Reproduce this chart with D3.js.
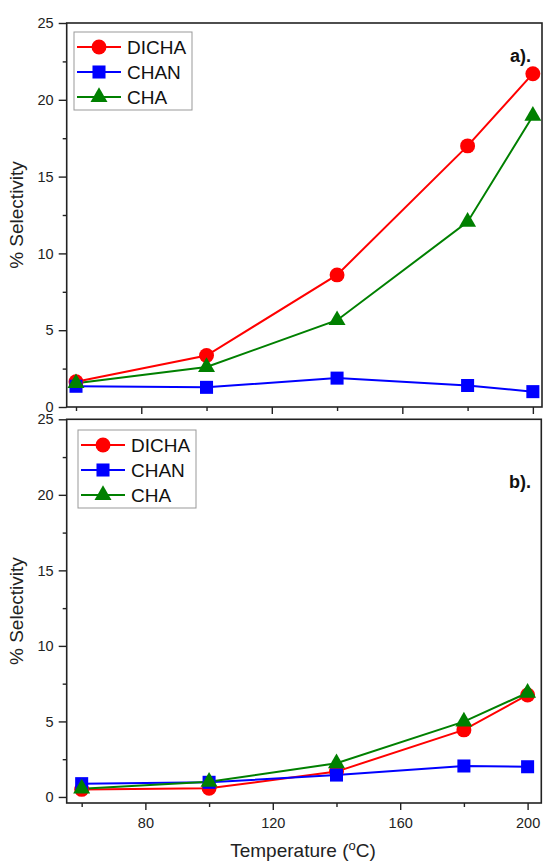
<html>
<head>
<meta charset="utf-8">
<title>Selectivity vs temperature</title>
<style type="text/css">
body { margin: 0; background: #fff; }
svg { font-family: "Liberation Sans", Arial, Helvetica, sans-serif; }
.frame { fill: none; stroke: #222; stroke-width: 1.6px; }
.axis path.domain { display: none; }
.axis line { stroke: #222; stroke-width: 1.4px; }
.axis text { font-size: 14.5px; fill: #222; }
.legbox { fill: #fff; stroke: #999; stroke-width: 1px; }
.legtext { font-size: 19px; fill: #111; }
.title { font-size: 19px; fill: #222; }
.tag { font-size: 18px; font-weight: bold; fill: #111; }
</style>
</head>
<body>
<script src="https://d3js.org/d3.v7.min.js"></script>
<script>
// temperatures (oC)
var temps = [60, 100, 140, 180, 200];

// panel a)
var aDicha = [1.65, 3.35, 8.6, 17.0, 21.7],
    aChan  = [1.35, 1.28, 1.88, 1.4, 1.0],
    aCha   = [1.55, 2.6, 5.65, 12.05, 18.95];

// panel b)
var bDicha = [0.5, 0.57, 1.68, 4.44, 6.75],
    bChan  = [0.88, 0.97, 1.45, 2.05, 2.0],
    bCha   = [0.55, 1.0, 2.23, 4.99, 6.9];

var seriesNames = ["DICHA", "CHAN", "CHA"],
    colors = ["#ff0000", "#0000ff", "#008000"],
    shapes = [d3.symbolCircle, d3.symbolSquare, d3.symbolTriangle],
    sizes = [175, 170, 125];

var yMajor = [0, 5, 10, 15, 20, 25],
    yMinor = [2.5, 7.5, 12.5, 17.5, 22.5],
    xMajor = [80, 120, 160, 200],
    xMinor = [60, 100, 140, 180];

var W = 544, H = 862;

var svg = d3.select("body").append("svg")
    .attr("width", W)
    .attr("height", H);

// one panel: box = [left, top, right, bottom] in pixels
function panel(box, xdom, ydom, values, tag, legOff, showX) {
	var xs = d3.scaleLinear().domain(xdom).range([box[0], box[2]]),
	    ys = d3.scaleLinear().domain(ydom).range([box[3], box[1]]);

	var g = svg.append("g");

	// y axis ticks
	g.append("g").attr("class", "axis")
		.attr("transform", "translate(" + box[0] + ",0)")
		.call(d3.axisLeft(ys).tickValues(yMajor).tickSize(8).tickPadding(5));
	g.append("g").attr("class", "axis")
		.attr("transform", "translate(" + box[0] + ",0)")
		.call(d3.axisLeft(ys).tickValues(yMinor).tickSize(4).tickFormat(""));

	// x axis ticks
	var xa = g.append("g").attr("class", "axis")
		.attr("transform", "translate(0," + box[3] + ")")
		.call(d3.axisBottom(xs).tickValues(xMajor).tickSize(7).tickPadding(8));
	if (!showX) xa.selectAll("text").remove();
	g.append("g").attr("class", "axis")
		.attr("transform", "translate(0," + box[3] + ")")
		.call(d3.axisBottom(xs).tickValues(xMinor).tickSize(4).tickFormat(""));

	// lines and markers
	var line = d3.line()
		.x(function(d, i) { return xs(temps[i]); })
		.y(function(d) { return ys(d); });

	values.forEach(function(vals, k) {
		g.append("path")
			.attr("d", line(vals))
			.attr("fill", "none")
			.attr("stroke", colors[k])
			.attr("stroke-width", 2);
	});
	values.forEach(function(vals, k) {
		g.selectAll(null).data(vals).enter().append("path")
			.attr("d", d3.symbol().type(shapes[k]).size(sizes[k]))
			.attr("transform", function(d, i) {
				return "translate(" + xs(temps[i]) + "," + ys(d) + ")";
			})
			.attr("fill", colors[k]);
	});

	// frame
	g.append("rect").attr("class", "frame")
		.attr("x", box[0]).attr("y", box[1])
		.attr("width", box[2] - box[0])
		.attr("height", box[3] - box[1]);

	// legend
	var lx = box[0] + legOff[0], ly = box[1] + legOff[1];
	g.append("rect").attr("class", "legbox")
		.attr("x", lx).attr("y", ly)
		.attr("width", 118).attr("height", 78);
	seriesNames.forEach(function(name, k) {
		var ry = ly + 15 + k * 25;
		g.append("line")
			.attr("x1", lx + 3).attr("x2", lx + 47)
			.attr("y1", ry).attr("y2", ry)
			.attr("stroke", colors[k]).attr("stroke-width", 2);
		g.append("path")
			.attr("d", d3.symbol().type(shapes[k]).size(sizes[k]))
			.attr("transform", "translate(" + (lx + 25) + "," + ry + ")")
			.attr("fill", colors[k]);
		g.append("text").attr("class", "legtext")
			.attr("x", lx + 53).attr("y", ry + 7)
			.text(name);
	});

	// panel tag
	g.append("text").attr("class", "tag")
		.attr("x", 531).attr("y", box[1] + (tag == "a)." ? 39 : 69))
		.attr("text-anchor", "end")
		.text(tag);

	// y title
	g.append("text").attr("class", "title")
		.attr("transform", "translate(23," + ((box[1] + box[3]) / 2) + ") rotate(-90)")
		.attr("text-anchor", "middle")
		.text("% Selectivity");

	return xs;
}

panel([66.7, 23, 542, 407], [57.15, 202.8], [0, 25],
	[aDicha, aChan, aCha], "a).", [7.3, 9], false);
panel([66.7, 419.3, 541.3, 803], [55.3, 204.3], [-0.4, 25],
	[bDicha, bChan, bCha], "b).", [11.3, 10.7], true);

// x title with superscript o
var xt = svg.append("text").attr("class", "title")
	.attr("x", 303).attr("y", 857)
	.attr("text-anchor", "middle");
xt.append("tspan").text("Temperature (");
xt.append("tspan").attr("dy", -7).attr("font-size", "13px").text("o");
xt.append("tspan").attr("dy", 7).text("C)");
</script>
</body>
</html>
